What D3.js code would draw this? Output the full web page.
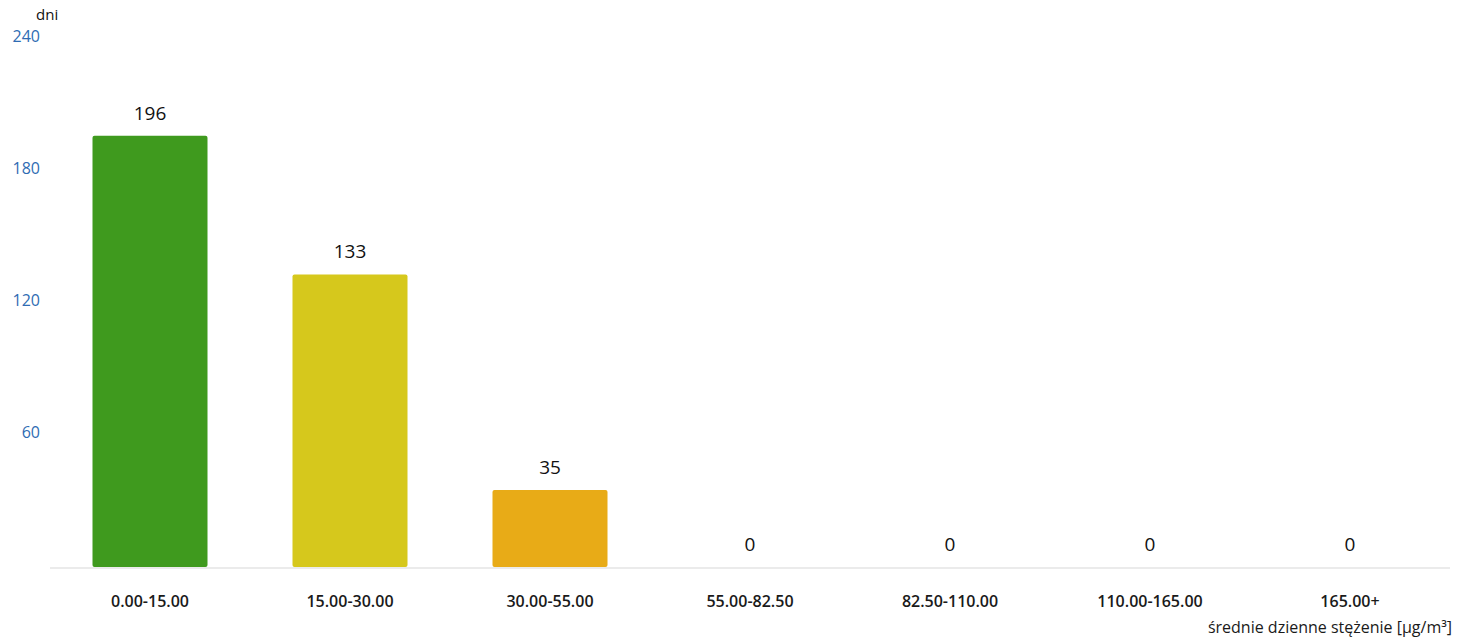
<!DOCTYPE html>
<html>
<head>
<meta charset="utf-8">
<script src="https://cdn.jsdelivr.net/npm/d3@7"></script>
<style>
  body { margin: 0; background: #fff; }
  text { font-family: "Open Sans", "Noto Sans", sans-serif; }
</style>
</head>
<body>
<div class="canvas"></div>
<script>
const categories = ['0.00-15.00', '15.00-30.00', '30.00-55.00', '55.00-82.50', '82.50-110.00', '110.00-165.00', '165.00+']
const days = [196, 133, 35, 0, 0, 0, 0]
const barColors = ['#3f9a1e', '#d6c81c', '#e8ab17', '#e07a1a', '#d43d1a', '#a31a1a', '#6b1010']
const yTicks = [60, 120, 180, 240]

const svg = d3.select('.canvas')
              .append('svg')
              .attr('width', 1460)
              .attr('height', 640)

const x = d3.scaleBand().domain(categories).range([50, 1450]).paddingInner(0.425).paddingOuter(0.2125)
const y = d3.scaleLinear().domain([0, 240]).range([567, 39])

// y axis labels (no line)
svg.append('g').selectAll('text')
   .data(yTicks)
   .enter().append('text')
   .attr('x', 40)
   .attr('y', d => y(d))
   .attr('dy', '0.2em')
   .attr('text-anchor', 'end')
   .attr('fill', '#2f6cb3')
   .attr('font-size', 16)
   .text(d => d)

svg.append('text')
   .attr('x', 36).attr('y', 20)
   .attr('font-size', 15)
   .attr('fill', '#111')
   .text('dni')

// baseline
svg.append('line')
   .attr('x1', 50).attr('x2', 1450)
   .attr('y1', y(0) + 1).attr('y2', y(0) + 1)
   .attr('stroke', '#ebebeb')
   .attr('stroke-width', 2)

svg.append('g').selectAll('rect')
   .data(days)
   .enter().append('rect')
   .attr('x', (d, i) => x(categories[i]))
   .attr('y', d => y(d))
   .attr('width', x.bandwidth())
   .attr('height', d => y(0) - y(d))
   .attr('rx', 2)
   .attr('fill', (d, i) => barColors[i])

// value labels
svg.append('g').selectAll('text')
   .data(days)
   .enter().append('text')
   .attr('x', (d, i) => x(categories[i]) + x.bandwidth() / 2)
   .attr('y', d => y(d) - 16)
   .attr('text-anchor', 'middle')
   .attr('font-size', 19)
   .attr('fill', '#111')
   .text(d => d)

// category labels
svg.append('g').selectAll('text')
   .data(categories)
   .enter().append('text')
   .attr('x', d => x(d) + x.bandwidth() / 2)
   .attr('y', 607)
   .attr('text-anchor', 'middle')
   .attr('font-size', 16)
   .attr('font-weight', 600)
   .attr('fill', '#1a1a1a')
   .text(d => d)

svg.append('text')
   .attr('x', 1452).attr('y', 633)
   .attr('text-anchor', 'end')
   .attr('font-size', 16)
   .attr('fill', '#1a1a1a')
   .text('średnie dzienne stężenie [µg/m³]')
</script>
</body>
</html>
